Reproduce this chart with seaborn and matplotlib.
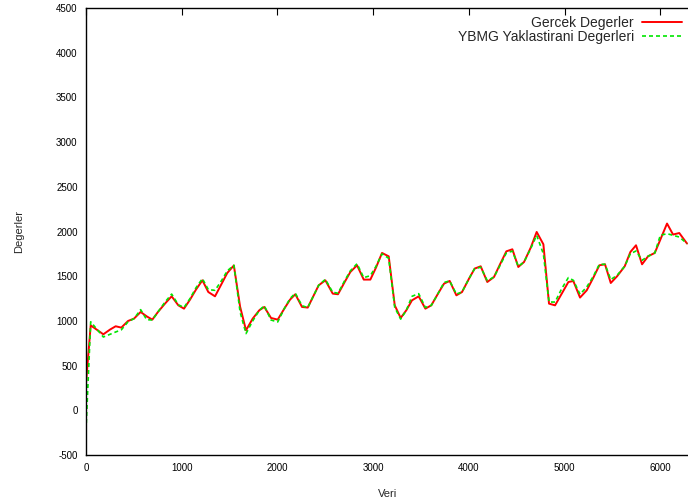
import matplotlib
matplotlib.use("Agg")
import matplotlib.pyplot as plt
import seaborn as sns
import pandas as pd

veri = [0, 49, 181, 251, 310, 369, 439, 502, 571, 634, 693, 752, 825, 895, 965,
        1024, 1087, 1149, 1216, 1278, 1348, 1418, 1476, 1545, 1610, 1672, 1742,
        1811, 1863, 1933, 2003, 2072, 2132, 2187, 2257, 2317, 2431, 2501, 2578,
        2633, 2703, 2762, 2832, 2902, 2971, 3030, 3093, 3163, 3226, 3288, 3347,
        3406, 3476, 3546, 3608, 3678, 3741, 3800, 3870, 3929, 4002, 4061, 4124,
        4193, 4263, 4326, 4392, 4455, 4517, 4577, 4647, 4709, 4779, 4838, 4901,
        4971, 5040, 5092, 5162, 5232, 5301, 5364, 5423, 5483, 5549, 5629, 5688,
        5747, 5810, 5873, 5943, 6001, 6071, 6134, 6199, 6280]

gercek = [300, 950, 850, 903, 940, 925, 999, 1026, 1100, 1051, 1014, 1100, 1193,
          1275, 1174, 1137, 1238, 1350, 1454, 1323, 1275, 1417, 1536, 1620, 1160,
          895, 1026, 1119, 1156, 1033, 1014, 1137, 1238, 1298, 1156, 1149, 1398,
          1454, 1305, 1298, 1435, 1547, 1622, 1462, 1462, 1596, 1760, 1722, 1174,
          1033, 1119, 1230, 1275, 1137, 1174, 1305, 1417, 1447, 1286, 1323, 1473,
          1585, 1611, 1435, 1491, 1633, 1778, 1801, 1603, 1659, 1820, 1995, 1857,
          1193, 1174, 1305, 1435, 1446, 1261, 1342, 1484, 1622, 1633, 1424, 1499,
          1611, 1771, 1846, 1633, 1723, 1760, 1909, 2089, 1966, 1983, 1865]

ybmg = [-220, 990, 820, 850, 876, 900, 990, 1026, 1126, 1014, 1010, 1100, 1210,
        1300, 1180, 1150, 1250, 1370, 1473, 1350, 1342, 1454, 1560, 1622, 1100,
        858, 1000, 1119, 1170, 1010, 988, 1137, 1250, 1310, 1170, 1149, 1398,
        1465, 1320, 1310, 1450, 1560, 1640, 1484, 1506, 1610, 1750, 1700, 1150,
        1020, 1119, 1275, 1305, 1150, 1174, 1305, 1430, 1447, 1300, 1323, 1473,
        1585, 1600, 1450, 1491, 1620, 1760, 1780, 1610, 1659, 1810, 1957, 1750,
        1211, 1211, 1361, 1484, 1454, 1298, 1379, 1499, 1633, 1633, 1462, 1510,
        1611, 1752, 1782, 1678, 1723, 1760, 1957, 1976, 1957, 1938, 1865]

y_ticks = [-500, 0, 500, 1000, 1500, 2000, 2500, 3000, 3500, 4000, 4500]
x_ticks = [0, 1000, 2000, 3000, 4000, 5000, 6000]

df_r = pd.DataFrame({"Veri": veri, "Deger": gercek})
df_g = pd.DataFrame({"Veri": veri, "Deger": ybmg})

sns.set_style("white")
plt.rcParams["font.family"] = ["Liberation Sans", "DejaVu Sans"]
plt.rcParams["axes.unicode_minus"] = False

fig = plt.figure(figsize=(6.88, 5.03), dpi=100)
# axes runs a couple of pixels past the right edge, like the reference
ax = fig.add_axes([86/688, 48/503, 604/688, 447/503])

sns.lineplot(data=df_r, x="Veri", y="Deger", ax=ax, color="#ff0000",
             linewidth=1.4, label="Gercek Degerler", sort=False)
sns.lineplot(data=df_g, x="Veri", y="Deger", ax=ax, color="#00e600",
             linewidth=1.2, label="YBMG Yaklastirani Degerleri", sort=False)
ax.lines[1].set_dashes([2.4, 1.8])

ax.set_xlim(0, 6311)
ax.set_ylim(-500, 4500)
ax.set_xticks(x_ticks)
ax.set_yticks(y_ticks)
ax.tick_params(direction="in", length=5, width=0.8, labelsize=7,
               top=True, right=False, colors="black", pad=6)
for s in ax.spines.values():
    s.set_color("black")
    s.set_linewidth(1.0)
ax.set_xlabel("Veri", fontsize=8, labelpad=11)
ax.set_ylabel("Degerler", fontsize=8, labelpad=23)

leg = ax.legend(loc="upper right", frameon=False, markerfirst=False,
                fontsize=10, handlelength=2.9, handletextpad=0.6,
                labelspacing=0.05, borderpad=0.0, borderaxespad=0.55)
leg.get_lines()[1].set_dashes([2.4, 1.8])
for t in leg.get_texts():
    t.set_ha("right")

fig.savefig("out.png", dpi=100)
